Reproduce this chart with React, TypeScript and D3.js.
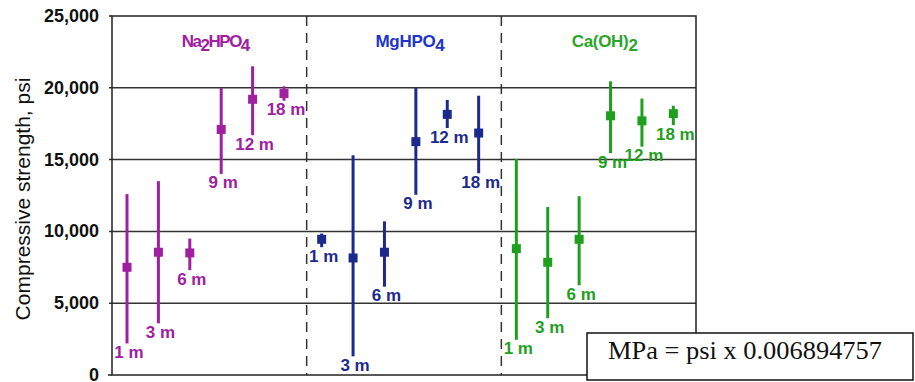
import React from "react";
import * as d3 from "d3";

const groups = ["Na2HPO4", "MgHPO4", "Ca(OH)2"];
const ages = ["1 m", "3 m", "6 m", "9 m", "12 m", "18 m"];

const naMean = [7500, 8550, 8500, 17100, 19200, 19600];
const naHigh = [12600, 13500, 9500, 20000, 21500, 20100];
const naLow = [2200, 3600, 7300, 14000, 16700, 19100];

const mgMean = [9450, 8150, 8550, 16250, 18150, 16850];
const mgHigh = [9850, 15300, 10700, 20000, 19150, 19450];
const mgLow = [8900, 1300, 6150, 12550, 17200, 14050];

const caMean = [8800, 7850, 9450, 18050, 17700, 18200];
const caHigh = [15050, 11700, 12450, 20450, 19250, 18750];
const caLow = [2450, 3950, 6250, 15450, 15900, 17400];

const yTicks = [0, 5000, 10000, 15000, 20000, 25000];

const titleParts = [
  [{ t: "Na", sub: false }, { t: "2", sub: true }, { t: "HPO", sub: false }, { t: "4", sub: true }],
  [{ t: "MgHPO", sub: false }, { t: "4", sub: true }],
  [{ t: "Ca(OH)", sub: false }, { t: "2", sub: true }],
];

const seriesMean = [naMean, mgMean, caMean];
const seriesHigh = [naHigh, mgHigh, caHigh];
const seriesLow = [naLow, mgLow, caLow];

const lineColors = ["#a020a0", "#1c2a8e", "#1ea01e"];
const titleColors = ["#a020a0", "#2233cc", "#2aa62a"];
const titleSpacing = [-1.5, -0.3, -0.3];

const W = 915;
const H = 382;
const left = 112;
const right = 696;
const top = 16;
const bottom = 375;

export default function App() {
  const y = d3.scaleLinear().domain([0, 25000]).range([bottom, top]);
  const xGroup = d3.scaleBand<string>().domain(groups).range([left, right]).paddingInner(0).paddingOuter(0);
  const xInner = d3.scaleLinear().domain([0, ages.length - 1]).range([15, 172]);
  const fmt = d3.format(",");
  const sans = "'Liberation Sans', Arial, sans-serif";
  const markerSize = 9;

  return (
    <svg
      width={W}
      height={H}
      style={{ position: "absolute", left: 0, top: 0, display: "block", background: "#fff" }}
    >
      {/* gridlines */}
      {yTicks.slice(1, -1).map((t) => (
        <line key={"g" + t} x1={left - 3} x2={right} y1={y(t)} y2={y(t)} stroke="#333" strokeWidth={1.5} />
      ))}
      {/* dividers */}
      {groups.slice(1).map((g) => (
        <line
          key={"d" + g}
          x1={xGroup(g)}
          x2={xGroup(g)}
          y1={top}
          y2={bottom}
          stroke="#333"
          strokeWidth={1.5}
          strokeDasharray="10,7"
        />
      ))}
      {/* frame */}
      <rect x={left} y={top} width={right - left} height={bottom - top} fill="none" stroke="#222" strokeWidth={1.5} />
      <line x1={left - 4} x2={left} y1={bottom} y2={bottom} stroke="#222" strokeWidth={1.5} />
      <line x1={left - 3} x2={left} y1={top} y2={top} stroke="#222" strokeWidth={1.5} />

      {/* y tick labels */}
      {yTicks.map((t) => (
        <text
          key={"t" + t}
          x={99}
          y={y(t)}
          textAnchor="end"
          dominantBaseline="central"
          fontFamily={sans}
          fontWeight="bold"
          fontSize={18}
          fill="#111"
        >
          {fmt(t)}
        </text>
      ))}

      {/* y axis title */}
      <text
        transform={`translate(30,199) rotate(-90)`}
        textAnchor="middle"
        fontFamily={sans}
        fontSize={21}
        fill="#111"
      >
        Compressive strength, psi
      </text>

      {/* group titles */}
      {groups.map((g, gi) => (
        <text
          key={"title" + g}
          x={(xGroup(g) as number) + xGroup.bandwidth() / 2 + 6}
          y={47}
          textAnchor="middle"
          fontFamily={sans}
          fontWeight="bold"
          fontSize={17}
          letterSpacing={titleSpacing[gi]}
          fill={titleColors[gi]}
        >
          {titleParts[gi].map((p, pi) => (
            <tspan
              key={pi}
              dy={p.sub ? 4 : pi > 0 && titleParts[gi][pi - 1].sub ? -4 : 0}
            >
              {p.t}
            </tspan>
          ))}
        </text>
      ))}

      {/* error bars, markers, labels */}
      {groups.map((g, gi) =>
        ages.map((a, ai) => {
          const cx = (xGroup(g) as number) + xInner(ai);
          const col = lineColors[gi];
          return (
            <g key={g + a}>
              <line
                x1={cx}
                x2={cx}
                y1={y(seriesHigh[gi][ai])}
                y2={y(seriesLow[gi][ai])}
                stroke={col}
                strokeWidth={3}
              />
              <rect
                x={cx - markerSize / 2}
                y={y(seriesMean[gi][ai]) - markerSize / 2}
                width={markerSize}
                height={markerSize}
                fill={col}
              />
              <text
                x={cx + 2}
                y={y(seriesLow[gi][ai]) + 9}
                textAnchor="middle"
                dominantBaseline="central"
                fontFamily={sans}
                fontWeight="bold"
                fontSize={17}
                fill={col}
              >
                {a}
              </text>
            </g>
          );
        })
      )}

      {/* conversion note */}
      <rect x={587} y={333} width={326} height={47} fill="#fff" stroke="#111" strokeWidth={1.5} />
      <text
        x={608}
        y={359}
        fontFamily="'Liberation Serif', 'Times New Roman', serif"
        fontSize={25}
        fill="#111"
        dominantBaseline="alphabetic"
        textLength={274}
        lengthAdjust="spacingAndGlyphs"
      >
        MPa = psi x 0.006894757
      </text>
    </svg>
  );
}
